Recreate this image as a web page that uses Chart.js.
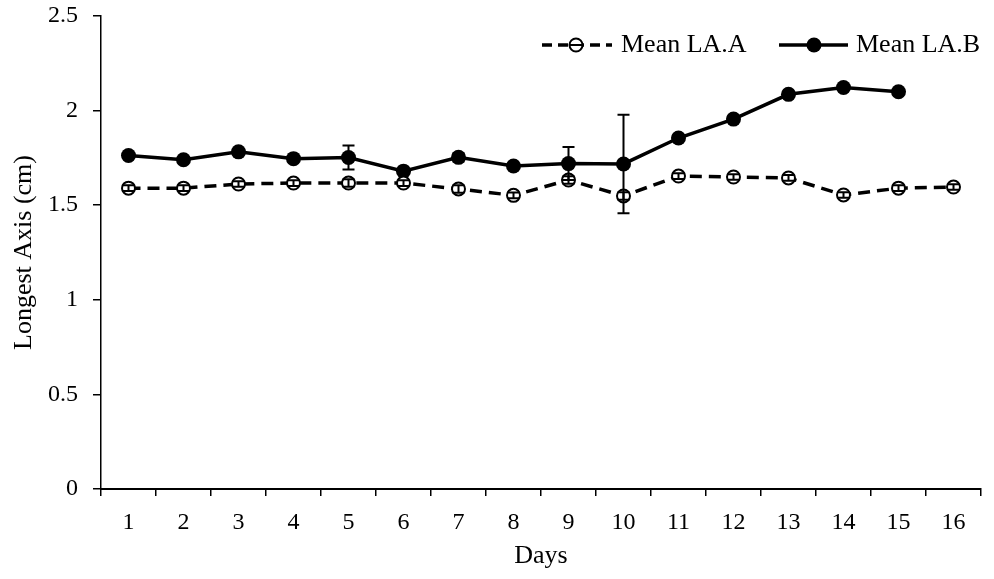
<!DOCTYPE html>
<html>
<head>
<meta charset="utf-8">
<script src="https://cdn.jsdelivr.net/npm/chart.js@4"></script>
<style>
  html, body { margin: 0; padding: 0; background: #fff; }
  #wrap { width: 994px; height: 579px; }
</style>
</head>
<body>
<div id="wrap"><canvas id="laChart" width="994" height="579"></canvas></div>
<script>
// dados
const days = ['1','2','3','4','5','6','7','8','9','10','11','12','13','14','15','16'];
const meanA = [1.59, 1.59, 1.612, 1.617, 1.617, 1.617, 1.586, 1.552, 1.633, 1.549, 1.654, 1.649, 1.644, 1.554, 1.59, 1.596];
const errA  = [0.015, 0.015, 0.015, 0.015, 0.02, 0.015, 0.02, 0.015, 0.02, 0.02, 0.015, 0.015, 0.015, 0.015, 0.015, 0.015];
const meanB = [1.763, 1.74, 1.782, 1.746, 1.752, 1.68, 1.753, 1.707, 1.72, 1.718, 1.855, 1.955, 2.086, 2.122, 2.1];
const errB  = [0.01, 0.01, 0.01, 0.01, 0.063, 0.01, 0.022, 0.01, 0.087, 0.26, 0.01, 0.01, 0.01, 0.01, 0.01];
const yTicks = [0, 0.5, 1, 1.5, 2, 2.5];

const serif = 'Liberation Serif, Times New Roman, serif';

// barras de erro desenhadas com as escalas do próprio gráfico
const errorBars = {
    id: 'errorBars',
    afterDatasetsDraw(chart) {
        const c = chart.ctx;
        const y = chart.scales.y;
        const sets = [errA, errB];
        c.save();
        c.strokeStyle = '#000';
        c.lineWidth = 2;
        chart.data.datasets.forEach((ds, i) => {
            const meta = chart.getDatasetMeta(i);
            meta.data.forEach((pt, j) => {
                const v = ds.data[j];
                const e = sets[i][j];
                const yt = y.getPixelForValue(v + e);
                const yb = y.getPixelForValue(v - e);
                c.beginPath();
                c.moveTo(pt.x, yt); c.lineTo(pt.x, yb);
                c.moveTo(pt.x - 6, yt); c.lineTo(pt.x + 6, yt);
                c.moveTo(pt.x - 6, yb); c.lineTo(pt.x + 6, yb);
                c.stroke();
            });
        });
        c.restore();
    }
};

// legenda dentro da área do gráfico (canto superior direito)
const insideLegend = {
    id: 'insideLegend',
    afterDraw(chart) {
        const c = chart.ctx;
        const yy = 45;
        c.save();
        c.strokeStyle = '#000';
        c.lineWidth = 3.5;
        // série A: tracejada, círculo aberto
        c.setLineDash([10, 6]);
        c.beginPath(); c.moveTo(542, yy); c.lineTo(612, yy); c.stroke();
        c.setLineDash([]);
        c.lineWidth = 2;
        c.fillStyle = '#fff';
        c.beginPath(); c.arc(576, yy, 6.5, 0, Math.PI * 2); c.fill(); c.stroke();
        c.beginPath(); c.moveTo(570, yy); c.lineTo(582, yy); c.stroke();
        // série B: contínua, círculo cheio
        c.lineWidth = 3.5;
        c.beginPath(); c.moveTo(779, yy); c.lineTo(848, yy); c.stroke();
        c.fillStyle = '#000';
        c.beginPath(); c.arc(814, yy, 7.5, 0, Math.PI * 2); c.fill();
        c.font = '26px ' + serif;
        c.textBaseline = 'middle';
        c.fillText('Mean LA.A', 621, yy);
        c.fillText('Mean LA.B', 856, yy);
        c.restore();
    }
};

const ctx = document.getElementById('laChart').getContext('2d');
const laChart = new Chart(ctx, {
    type: 'line',
    data: {
        labels: days,
        datasets: [
            {
                label: 'Mean LA.A',
                data: meanA,
                borderColor: '#000',
                borderWidth: 3.5,
                borderDash: [12, 7],
                pointRadius: 6.5,
                pointBorderWidth: 2,
                pointBackgroundColor: '#fff',
                pointBorderColor: '#000',
                tension: 0,
                fill: false
            },
            {
                label: 'Mean LA.B',
                data: meanB,
                borderColor: '#000',
                borderWidth: 3.5,
                pointRadius: 7.5,
                pointBorderWidth: 0,
                pointBackgroundColor: '#000',
                pointBorderColor: '#000',
                tension: 0,
                fill: false
            }
        ]
    },
    options: {
        responsive: false,
        animation: false,
        layout: { padding: { top: 16, right: 13, left: 0, bottom: 0 } },
        plugins: {
            legend: { display: false },
            tooltip: { enabled: false }
        },
        scales: {
            x: {
                offset: true,
                grid: { offset: true, drawOnChartArea: false, drawTicks: true, tickLength: 7, color: '#000', lineWidth: 1.5 },
                border: { color: '#000', width: 2 },
                ticks: { color: '#000', font: { family: serif, size: 24 }, padding: 12, maxRotation: 0, autoSkip: false },
                title: { display: true, text: 'Days', color: '#000', font: { family: serif, size: 26 }, padding: { top: 0, bottom: 7 } },
                afterFit(scale) { scale.height = 90; scale.paddingLeft = 0; scale.paddingRight = 0; }
            },
            y: {
                min: 0,
                max: 2.5,
                afterBuildTicks(scale) { scale.ticks = yTicks.map(v => ({ value: v })); },
                grid: { drawOnChartArea: false, drawTicks: true, tickLength: 8, color: '#000', lineWidth: 1.5 },
                border: { color: '#000', width: 1.5 },
                ticks: { color: '#000', font: { family: serif, size: 24 }, padding: 15, callback: v => String(v) },
                title: { display: true, text: 'Longest Axis (cm)', color: '#000', font: { family: serif, size: 26 }, padding: { top: 9, bottom: 0 } },
                afterFit(scale) { scale.width = 101; scale.paddingTop = 0; scale.paddingBottom = 0; }
            }
        }
    },
    plugins: [errorBars, insideLegend]
});
</script>
</body>
</html>
